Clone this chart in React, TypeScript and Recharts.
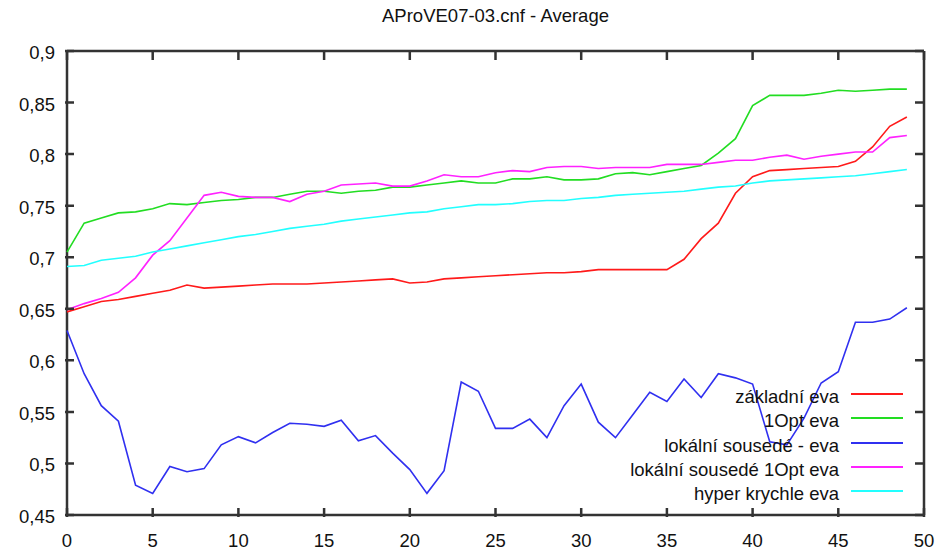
import React from 'react';
import { LineChart, Line, XAxis, YAxis, CartesianGrid } from 'recharts';

const FONT = '"Liberation Sans", Arial, sans-serif';
const FONT_SIZE = 18.5;

const iterations = [
  0, 1, 2, 3, 4, 5, 6, 7, 8, 9, 10, 11, 12, 13, 14, 15, 16, 17, 18, 19, 20, 21, 22, 23, 24,
  25, 26, 27, 28, 29, 30, 31, 32, 33, 34, 35, 36, 37, 38, 39, 40, 41, 42, 43, 44, 45, 46, 47, 48, 49,
];

const zakladni = [
  0.647, 0.652, 0.657, 0.659, 0.662, 0.665, 0.668, 0.673, 0.670, 0.671,
  0.672, 0.673, 0.674, 0.674, 0.674, 0.675, 0.676, 0.677, 0.678, 0.679,
  0.675, 0.676, 0.679, 0.680, 0.681, 0.682, 0.683, 0.684, 0.685, 0.685,
  0.686, 0.688, 0.688, 0.688, 0.688, 0.688, 0.698, 0.718, 0.733, 0.762,
  0.778, 0.784, 0.785, 0.786, 0.787, 0.788, 0.793, 0.807, 0.827, 0.836,
];

const opt1 = [
  0.705, 0.733, 0.738, 0.743, 0.744, 0.747, 0.752, 0.751, 0.753, 0.755,
  0.756, 0.758, 0.758, 0.761, 0.764, 0.764, 0.762, 0.764, 0.765, 0.768,
  0.768, 0.770, 0.772, 0.774, 0.772, 0.772, 0.776, 0.776, 0.778, 0.775,
  0.775, 0.776, 0.781, 0.782, 0.780, 0.783, 0.786, 0.789, 0.801, 0.815,
  0.847, 0.857, 0.857, 0.857, 0.859, 0.862, 0.861, 0.862, 0.863, 0.863,
];

const lokalni = [
  0.629, 0.587, 0.556, 0.541, 0.479, 0.471, 0.497, 0.492, 0.495, 0.518,
  0.526, 0.520, 0.530, 0.539, 0.538, 0.536, 0.542, 0.522, 0.527, 0.510,
  0.494, 0.471, 0.493, 0.579, 0.570, 0.534, 0.534, 0.543, 0.525, 0.556,
  0.577, 0.540, 0.525, 0.547, 0.569, 0.560, 0.582, 0.564, 0.587, 0.583,
  0.577, 0.521, 0.518, 0.544, 0.578, 0.589, 0.637, 0.637, 0.640, 0.651,
];

const lokalniOpt = [
  0.649, 0.655, 0.660, 0.666, 0.680, 0.702, 0.716, 0.738, 0.760, 0.763,
  0.759, 0.758, 0.758, 0.754, 0.761, 0.764, 0.770, 0.771, 0.772, 0.769,
  0.769, 0.774, 0.780, 0.778, 0.778, 0.782, 0.784, 0.783, 0.787, 0.788,
  0.788, 0.786, 0.787, 0.787, 0.787, 0.790, 0.790, 0.790, 0.792, 0.794,
  0.794, 0.797, 0.799, 0.795, 0.798, 0.800, 0.802, 0.802, 0.816, 0.818,
];

const hyper = [
  0.691, 0.692, 0.697, 0.699, 0.701, 0.705, 0.708, 0.711, 0.714, 0.717,
  0.720, 0.722, 0.725, 0.728, 0.730, 0.732, 0.735, 0.737, 0.739, 0.741,
  0.743, 0.744, 0.747, 0.749, 0.751, 0.751, 0.752, 0.754, 0.755, 0.755,
  0.757, 0.758, 0.760, 0.761, 0.762, 0.763, 0.764, 0.766, 0.768, 0.769,
  0.772, 0.774, 0.775, 0.776, 0.777, 0.778, 0.779, 0.781, 0.783, 0.785,
];

const xTicks = [0, 5, 10, 15, 20, 25, 30, 35, 40, 45, 50];
const yTicks = [0.45, 0.5, 0.55, 0.6, 0.65, 0.7, 0.75, 0.8, 0.85, 0.9];

const series = [
  { key: 'zakladni', name: 'základní eva', color: '#ff1a1a' },
  { key: 'opt1', name: '1Opt eva', color: '#22dd22' },
  { key: 'lokalni', name: 'lokální sousedé - eva', color: '#3030f0' },
  { key: 'lokalniOpt', name: 'lokální sousedé 1Opt eva', color: '#ff22ff' },
  { key: 'hyper', name: 'hyper krychle eva', color: '#22ffff' },
];

const data = iterations.map((it, i) => ({
  it,
  zakladni: zakladni[i],
  opt1: opt1[i],
  lokalni: lokalni[i],
  lokalniOpt: lokalniOpt[i],
  hyper: hyper[i],
}));

// gnuplot-like border: inward tick marks, mirrored on top and right
const PLOT_TOP = 51;
const PLOT_RIGHT = 924;
const TICK = 9;
const INK = '#111';
const BORDER = '#333';

const comma = (v: number) => String(v).replace('.', ',');

const XTick = (props: any) => {
  const { x, y, payload } = props;
  return (
    <g>
      <path d={`M${x},${y}V${y - TICK}M${x},${PLOT_TOP}V${PLOT_TOP + TICK}`} stroke={BORDER} strokeWidth={2.5} fill="none" />
      <text x={x} y={y + 30} textAnchor="middle" fill={INK} fontSize={FONT_SIZE} fontFamily={FONT}>
        {payload.value}
      </text>
    </g>
  );
};

const YTick = (props: any) => {
  const { x, y, payload } = props;
  return (
    <g>
      <path d={`M${x},${y}H${x + TICK}M${PLOT_RIGHT},${y}H${PLOT_RIGHT - TICK}`} stroke={BORDER} strokeWidth={2.5} fill="none" />
      <text x={x - 10} y={y + 8} textAnchor="end" fill={INK} fontSize={FONT_SIZE} fontFamily={FONT}>
        {comma(payload.value)}
      </text>
    </g>
  );
};

const frameH = (p: any) => [p.offset.top, p.offset.top + p.offset.height];
const frameV = (p: any) => [p.offset.left, p.offset.left + p.offset.width];

export default function App() {
  return (
    <div style={{ position: 'absolute', left: 0, top: 0, width: 941, height: 550, background: '#fff' }}>
      <LineChart width={941} height={550} data={data} margin={{ top: 51, right: 17, bottom: 0, left: 0 }}>
        <CartesianGrid
          stroke={BORDER}
          strokeWidth={2.5}
          horizontalCoordinatesGenerator={frameH}
          verticalCoordinatesGenerator={frameV}
        />
        <XAxis
          dataKey="it"
          type="number"
          domain={[0, 50]}
          ticks={xTicks}
          height={35}
          tickSize={0}
          tickLine={false}
          axisLine={false}
          tick={<XTick />}
          interval={0}
        />
        <YAxis
          type="number"
          domain={[0.45, 0.9]}
          ticks={yTicks}
          width={67}
          tickSize={0}
          tickLine={false}
          axisLine={false}
          tick={<YTick />}
          interval={0}
        />
        {series.map((s) => (
          <Line
            key={s.key}
            type="linear"
            dataKey={s.key}
            name={s.name}
            stroke={s.color}
            strokeWidth={1.6}
            dot={false}
            activeDot={false}
            isAnimationActive={false}
          />
        ))}
      </LineChart>
      <div
        style={{
          position: 'absolute',
          left: 67,
          top: 6,
          width: 857,
          textAlign: 'center',
          fontFamily: FONT,
          fontSize: FONT_SIZE,
          lineHeight: '20px',
          color: INK,
        }}
      >
        AProVE07-03.cnf - Average
      </div>
      <div style={{ position: 'absolute', right: 38, top: 385, fontFamily: FONT, fontSize: FONT_SIZE, color: INK }}>
        {series.map((s) => (
          <div
            key={s.key}
            style={{ display: 'flex', alignItems: 'center', justifyContent: 'flex-end', height: 24.3 }}
          >
            <span style={{ whiteSpace: 'nowrap', lineHeight: '24px' }}>{s.name}</span>
            <svg width={52} height={8} style={{ marginLeft: 12, marginTop: -6, display: 'block' }}>
              <line x1={0} y1={4} x2={52} y2={4} stroke={s.color} strokeWidth={2} />
            </svg>
          </div>
        ))}
      </div>
    </div>
  );
}
